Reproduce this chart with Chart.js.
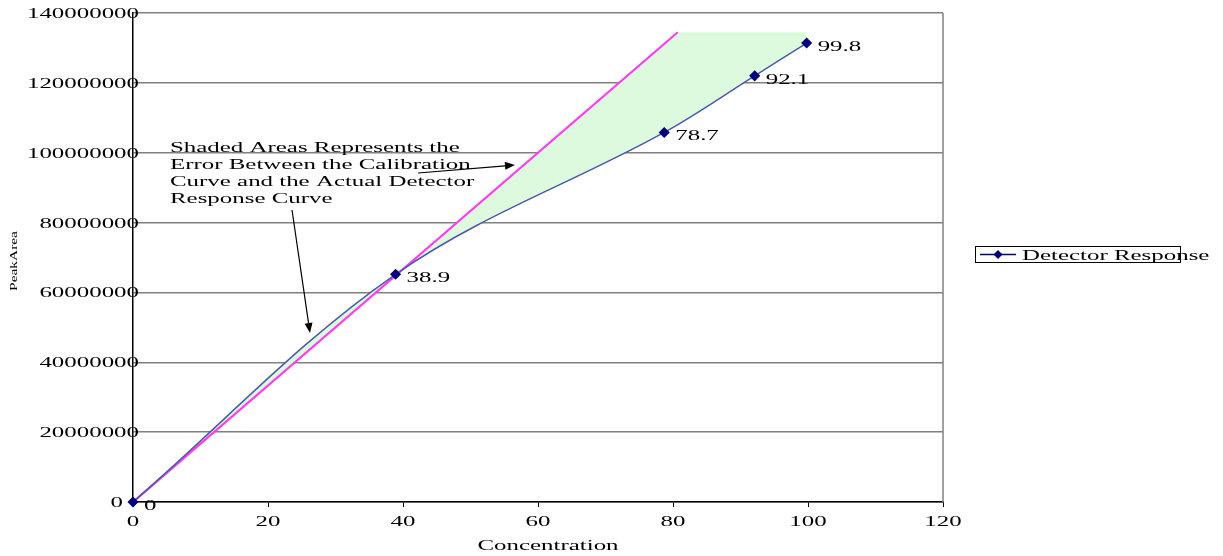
<!DOCTYPE html>
<html>
<head>
<meta charset="utf-8">
<script src="https://cdn.jsdelivr.net/npm/chart.js@4/dist/chart.umd.min.js"></script>
<style>
html, body { margin: 0; padding: 0; background: #fff; }
</style>
</head>
<body>
<canvas id="calChart" width="1223" height="556"></canvas>
<script>
// Detector response readings
let concentration = [0, 38.9, 78.7, 92.1, 99.8];
let peakArea = [0, 65200000, 105800000, 122000000, 131400000];
let pointLabels = ['0', '38.9', '78.7', '92.1', '99.8'];

// Calibration line (ends where the shaded area tops out)
let calibrationX = [0, 80.7];
let calibrationY = [0, 134500000];

// Upper edge of the shaded error area
let shadeEdgeX = [0, 80.7, 100.7];
let shadeEdgeY = [0, 134500000, 134500000];

let xTicks = [0, 20, 40, 60, 80, 100, 120];
let yTicks = [0, 20000000, 40000000, 60000000, 80000000, 100000000, 120000000, 140000000];

let noteLines = [
    'Shaded Areas Represents the',
    'Error Between the Calibration',
    'Curve and the Actual Detector',
    'Response Curve'
];

const SERIF = '"Liberation Serif", "Times New Roman", serif';
const SX = 1.66; // the original text is drawn wide

function toPoints(xs, ys) {
    let pts = [];
    for (let i = 0; i < xs.length; i++) {
        pts.push({ x: xs[i], y: ys[i] });
    }
    return pts;
}

// draws text stretched horizontally
function wideText(ctx, text, x, y, align) {
    ctx.save();
    ctx.translate(x, y);
    ctx.scale(SX, 1);
    ctx.textAlign = align;
    ctx.fillText(text, 0, 0);
    ctx.restore();
}

function arrow(ctx, x1, y1, x2, y2) {
    let a = Math.atan2(y2 - y1, x2 - x1);
    let len = 10, w = 4;
    ctx.beginPath();
    ctx.moveTo(x1, y1);
    ctx.lineTo(x2 - Math.cos(a) * len, y2 - Math.sin(a) * len);
    ctx.stroke();
    ctx.beginPath();
    ctx.moveTo(x2, y2);
    ctx.lineTo(x2 - Math.cos(a) * len - Math.sin(a) * w, y2 - Math.sin(a) * len + Math.cos(a) * w);
    ctx.lineTo(x2 - Math.cos(a) * len + Math.sin(a) * w, y2 - Math.sin(a) * len - Math.cos(a) * w);
    ctx.closePath();
    ctx.fill();
}

const extras = {
    id: 'extras',
    afterDatasetsDraw(chart) {
        let ctx = chart.ctx;
        let meta = chart.getDatasetMeta(0);
        ctx.save();
        ctx.font = '15px ' + SERIF;
        ctx.fillStyle = '#000';
        ctx.textBaseline = 'alphabetic';
        meta.data.forEach((pt, i) => {
            wideText(ctx, pointLabels[i], pt.x + 11, pt.y + 8, 'left');
        });
        ctx.restore();
    },
    afterDraw(chart) {
        let ctx = chart.ctx;
        let area = chart.chartArea;
        let xs = chart.scales.x;
        let ys = chart.scales.y;
        ctx.save();
        ctx.fillStyle = '#000';
        ctx.font = '15px ' + SERIF;

        // axis tick labels
        ctx.textBaseline = 'middle';
        yTicks.forEach(v => {
            let right = v === 0 ? 123 : 139;
            wideText(ctx, String(v), right, ys.getPixelForValue(v) + 1, 'right');
        });
        xTicks.forEach(v => {
            wideText(ctx, String(v), xs.getPixelForValue(v), 522, 'center');
        });
        wideText(ctx, 'Concentration', 548, 546, 'center');

        // y title, rotated
        ctx.save();
        ctx.font = '11px ' + SERIF;
        ctx.translate(14, 261);
        ctx.rotate(-Math.PI / 2);
        ctx.scale(1.4, 1);
        ctx.textAlign = 'center';
        ctx.fillText('PeakArea', 0, 0);
        ctx.restore();

        // note
        ctx.textBaseline = 'alphabetic';
        noteLines.forEach((line, i) => {
            wideText(ctx, line, 170, 152 + i * 17, 'left');
        });

        ctx.strokeStyle = '#000';
        ctx.lineWidth = 1.2;
        arrow(ctx, 418, 173, 515, 165);
        arrow(ctx, 292, 210, 310, 333);

        // legend
        ctx.strokeStyle = '#000';
        ctx.lineWidth = 1;
        ctx.strokeRect(975.5, 246.5, 205, 16);
        ctx.strokeStyle = '#00007a';
        ctx.lineWidth = 1.5;
        ctx.beginPath();
        ctx.moveTo(980, 254.5);
        ctx.lineTo(1016, 254.5);
        ctx.stroke();
        ctx.fillStyle = '#00007a';
        ctx.beginPath();
        ctx.moveTo(998, 250);
        ctx.lineTo(1002.5, 254.5);
        ctx.lineTo(998, 259);
        ctx.lineTo(993.5, 254.5);
        ctx.closePath();
        ctx.fill();
        ctx.fillStyle = '#000';
        wideText(ctx, 'Detector Response', 1022, 260, 'left');

        // right border of the plot
        ctx.strokeStyle = '#808080';
        ctx.lineWidth = 1.5;
        ctx.beginPath();
        ctx.moveTo(area.right, area.top);
        ctx.lineTo(area.right, area.bottom);
        ctx.stroke();
        ctx.restore();
    }
};

let ctx = document.getElementById('calChart').getContext('2d');

let calChart = new Chart(ctx, {
    type: 'line',
    data: {
        datasets: [
            {
                label: 'Detector Response',
                data: toPoints(concentration, peakArea),
                borderColor: '#4a5aa8',
                borderWidth: 1.5,
                tension: 0.35,
                pointStyle: 'rectRot',
                pointRadius: 4.5,
                pointBackgroundColor: '#00007a',
                pointBorderColor: '#00007a',
                clip: 8,
                fill: { target: 2, above: 'rgb(222,250,222)', below: 'rgb(222,250,222)' }
            },
            {
                label: 'Calibration',
                data: toPoints(calibrationX, calibrationY),
                borderColor: '#ff3cf0',
                borderWidth: 2.2,
                pointRadius: 0,
                tension: 0,
                fill: false
            },
            {
                label: 'Shade edge',
                data: toPoints(shadeEdgeX, shadeEdgeY),
                borderWidth: 0,
                borderColor: 'rgba(0,0,0,0)',
                pointRadius: 0,
                tension: 0,
                fill: false
            }
        ]
    },
    options: {
        responsive: false,
        animation: false,
        devicePixelRatio: 1,
        layout: { padding: { left: 0, right: 280, top: 13, bottom: 0 } },
        plugins: {
            legend: { display: false },
            tooltip: { enabled: false },
            filler: { drawTime: 'beforeDatasetsDraw' }
        },
        scales: {
            x: {
                type: 'linear',
                min: 0,
                max: 120,
                afterBuildTicks: function(scale) {
                    scale.ticks = xTicks.map(v => ({ value: v }));
                },
                afterFit: function(scale) {
                    scale.height = 54;
                },
                grid: {
                    drawOnChartArea: false,
                    tickLength: 5,
                    tickColor: '#000'
                },
                border: { color: '#000', width: 1.5 },
                ticks: { display: false }
            },
            y: {
                min: 0,
                max: 140000000,
                afterBuildTicks: function(scale) {
                    scale.ticks = yTicks.map(v => ({ value: v }));
                },
                afterFit: function(scale) {
                    scale.width = 133;
                },
                grid: {
                    color: '#808080',
                    lineWidth: 1.5,
                    drawTicks: false
                },
                border: { color: '#000', width: 1.5 },
                ticks: { display: false }
            }
        }
    },
    plugins: [extras]
});
</script>
</body>
</html>
